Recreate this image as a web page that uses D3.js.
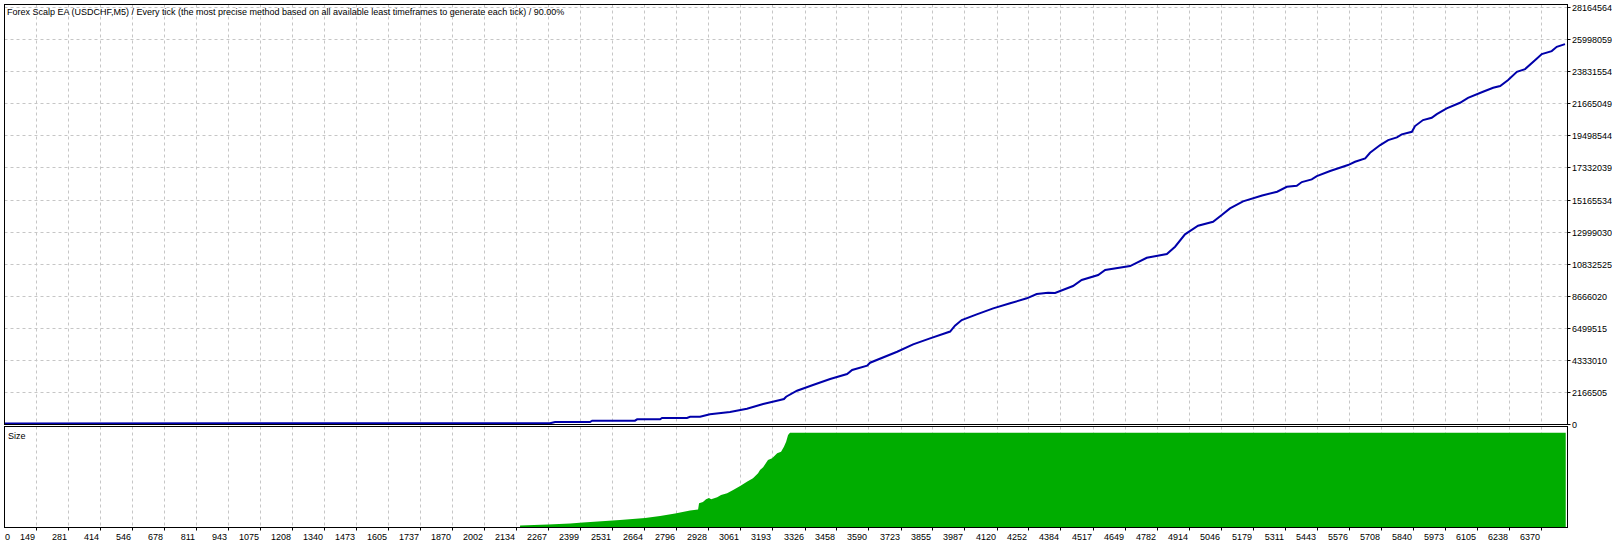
<!DOCTYPE html>
<html>
<head>
<meta charset="utf-8">
<script src="https://cdn.jsdelivr.net/npm/d3@7/dist/d3.min.js"></script>
<style>
  html, body { margin: 0; padding: 0; background: #ffffff; }
  svg { display: block; }
  text { font-family: "Liberation Sans", Arial, sans-serif; font-size: 9px; fill: #000; }
</style>
</head>
<body>
<svg id="chart" width="1612" height="546"></svg>
<script>
// ---- data ----
const titleText = "Forex Scalp EA (USDCHF,M5) / Every tick (the most precise method based on all available least timeframes to generate each tick) / 90.00%";
const sizeLabel = "Size";

// x-axis tick labels (trade numbers)
const xTickLabels = ["0","149","281","414","546","678","811","943","1075","1208","1340","1473","1605","1737","1870","2002","2134","2267","2399","2531","2664","2796","2928","3061","3193","3326","3458","3590","3723","3855","3987","4120","4252","4384","4517","4649","4782","4914","5046","5179","5311","5443","5576","5708","5840","5973","6105","6238","6370"];

// y-axis tick labels (balance)
const yTickLabels = ["0","2166505","4333010","6499515","8666020","10832525","12999030","15165534","17332039","19498544","21665049","23831554","25998059","28164564"];

// balance curve: trade number and balance
const balanceTrades = [0,2274,2295,2439,2448,2625,2634,2729,2737,2840,2853,2894,2935,3018,3088,3155,3225,3241,3250,3295,3361,3432,3502,3523,3585,3597,3709,3775,3845,3928,3948,3976,4038,4106,4176,4245,4286,4333,4362,4436,4472,4540,4569,4672,4741,4824,4858,4899,4953,5015,5051,5085,5139,5218,5280,5320,5361,5382,5423,5444,5499,5573,5602,5644,5664,5706,5739,5775,5795,5837,5850,5883,5919,5940,5981,6036,6069,6131,6173,6202,6235,6271,6305,6354,6374,6415,6436,6470];
const balanceValues = [55000,60700,148500,148500,236200,236200,330700,330700,418400,418400,506200,506200,668200,823400,1046100,1363300,1633300,1700800,1856000,2261000,2645700,3050600,3388100,3658100,3948300,4150800,4893200,5392600,5797600,6256500,6648000,7032700,7417400,7822400,8159900,8497300,8787600,8875300,8855000,9327400,9732400,10069800,10407300,10677300,11237400,11487100,11979800,12816700,13397100,13667100,14119300,14571500,15044000,15435400,15691900,16029400,16096900,16346600,16528800,16751600,17089000,17494000,17716700,17946200,18324100,18843800,19181300,19363600,19566000,19741500,20126200,20531200,20686400,20936100,21320800,21698800,22036300,22441200,22711200,22825900,23230900,23791100,23973400,24695500,24985700,25188200,25478400,25660700];

// lot size per trade (relative, max = 100)
const sizeTrades = [2150,2266,2357,2410,2472,2563,2667,2729,2791,2853,2886,2890,2906,2919,2931,2940,2965,2981,3006,3031,3060,3088,3113,3134,3142,3155,3175,3192,3213,3229,3241,3250,3258,3266,6473];
const sizeValues = [2.6,3.6,4.8,5.8,6.9,8.3,10.5,12.5,15.2,18.3,19.5,25.9,27.3,30.1,31.5,30.1,32.2,34.6,36.4,39.9,44.1,48.6,52.2,57.4,60.9,63.7,71.4,73.1,78.4,80.1,85.3,90.6,97.6,100,100];

// ---- layout ----
const L = 4.5, R = 1567.5;
const mainTop = 4.5, mainBottom = 424.5;
const subTop = 426.5, subBottom = 527.5;

const svg = d3.select("#chart");

const x = d3.scaleLinear().domain([0, 6470]).range([0, 1565]);
const y = d3.scaleLinear().domain([0, 28164564]).range([424.2, 7]);
const ys = d3.scaleLinear().domain([0, 100]).range([528, 432.7]);

const defs = svg.append("defs");
defs.append("clipPath").attr("id", "clipMain").append("rect")
  .attr("x", L + 0.5).attr("y", mainTop + 0.5).attr("width", R - L - 1).attr("height", mainBottom - mainTop - 1);
defs.append("clipPath").attr("id", "clipSub").append("rect")
  .attr("x", L + 0.5).attr("y", subTop + 0.5).attr("width", R - L - 1).attr("height", subBottom - subTop - 1);

const gridColor = "#c6c6c6";
const xTickVals = xTickLabels.map(Number);
const yTickVals = yTickLabels.map(Number);

// vertical grid lines (both panels)
const vg = svg.append("g");
xTickVals.slice(1).forEach(v => {
  const px = Math.round(x(v)) + 0.5;
  vg.append("line").attr("x1", px).attr("x2", px).attr("y1", mainTop).attr("y2", mainBottom)
    .attr("stroke", gridColor).attr("stroke-width", 1).attr("stroke-dasharray", "3,3");
  vg.append("line").attr("x1", px).attr("x2", px).attr("y1", subTop).attr("y2", subBottom)
    .attr("stroke", gridColor).attr("stroke-width", 1).attr("stroke-dasharray", "3,3");
});
// horizontal grid lines (main panel)
yTickVals.slice(1).forEach(v => {
  const py = Math.round(y(v)) + 0.5;
  vg.append("line").attr("x1", L).attr("x2", R).attr("y1", py).attr("y2", py)
    .attr("stroke", gridColor).attr("stroke-width", 1).attr("stroke-dasharray", "3,3");
});

// size histogram
const sizeData = sizeTrades.map((t, i) => ({t, v: sizeValues[i]}));
svg.append("path")
  .attr("clip-path", "url(#clipSub)")
  .datum(sizeData)
  .attr("fill", "#00ad00")
  .attr("d", d3.area().curve(d3.curveLinear).x(d => x(d.t)).y0(ys(0)).y1(d => ys(d.v)));

// balance line
const balData = balanceTrades.map((t, i) => ({t, v: balanceValues[i]}));
svg.append("path")
  .attr("clip-path", "url(#clipMain)")
  .datum(balData)
  .attr("fill", "none")
  .attr("stroke", "#0000aa")
  .attr("stroke-width", 2)
  .attr("d", d3.line().x(d => x(d.t)).y(d => y(d.v)));

// panel borders
svg.append("rect").attr("x", L).attr("y", mainTop).attr("width", R - L).attr("height", mainBottom - mainTop)
  .attr("fill", "none").attr("stroke", "#000").attr("stroke-width", 1);
svg.append("rect").attr("x", L).attr("y", subTop).attr("width", R - L).attr("height", subBottom - subTop)
  .attr("fill", "none").attr("stroke", "#000").attr("stroke-width", 1);

// right axis ticks + labels
const ya = svg.append("g");
yTickVals.forEach((v, i) => {
  const py = Math.round(y(v)) + 0.5;
  ya.append("line").attr("x1", R).attr("x2", R + 3).attr("y1", py).attr("y2", py).attr("stroke", "#000");
  ya.append("text").attr("x", 1572).attr("y", py).attr("dy", "0.35em").text(yTickLabels[i]);
});

// bottom axis ticks + labels
const xa = svg.append("g");
xTickVals.forEach((v, i) => {
  const px = Math.round(x(v)) + 0.5;
  if (i === 0) {
    xa.append("text").attr("x", 5).attr("y", 539.5).text(xTickLabels[i]);
  } else {
    xa.append("line").attr("x1", px).attr("x2", px).attr("y1", subBottom).attr("y2", subBottom + 3).attr("stroke", "#000");
    xa.append("text").attr("x", px - 1.5).attr("y", 539.5).attr("text-anchor", "end").text(xTickLabels[i]);
  }
});

// titles
svg.append("text").attr("x", 7).attr("y", 15).text(titleText);
svg.append("text").attr("x", 8).attr("y", 438.5).text(sizeLabel);
</script>
</body>
</html>
